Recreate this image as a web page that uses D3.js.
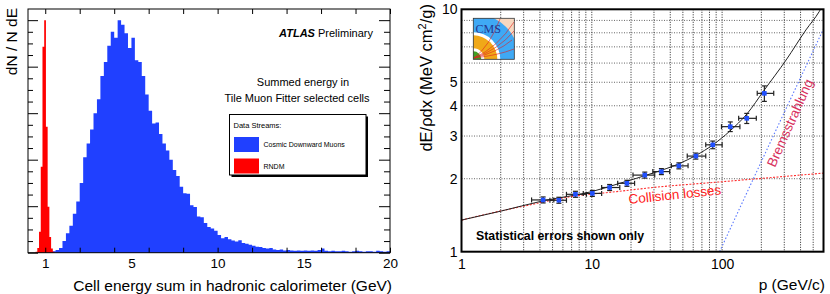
<!DOCTYPE html>
<html>
<head>
<meta charset="utf-8">
<script src="https://d3js.org/d3.v7.min.js"></script>
<style>
body { margin: 0; background: #fff; }
svg { display: block; font-family: "Liberation Sans", Arial, Helvetica, sans-serif; }
</style>
</head>
<body>
<svg width="830" height="294"></svg>
<script>
// ---------- left panel : ATLAS histogram ----------
var blueStart = 0.4, blueWidth = 0.2;
var blueCounts = [0.03, 0.06, 0.1, 0.25, 0.42, 0.58, 0.84, 1.1, 1.5, 2.05,
  2.35, 2.65, 3.0, 3.3, 3.8, 4.1, 4.45, 4.75, 4.62, 5.0,
  4.9, 4.72, 4.4, 4.62, 4.14, 4.1, 3.8, 3.4, 3.05, 2.78,
  2.8, 2.55, 2.35, 2.2, 2.0, 1.78, 1.65, 1.42, 1.28, 1.27,
  1.02, 0.98, 0.78, 0.76, 0.64, 0.55, 0.52, 0.47, 0.38, 0.31,
  0.34, 0.29, 0.26, 0.24, 0.27, 0.21, 0.19, 0.17, 0.15, 0.13,
  0.12, 0.10, 0.09, 0.10, 0.07, 0.06, 0.07, 0.05, 0.06, 0.05,
  0.04, 0.05, 0.04, 0.05, 0.04, 0.05, 0.04, 0.06, 0.09, 0.04,
  0.03, 0.04, 0.03, 0.03, 0.04, 0.03, 0.02, 0.03, 0.04, 0.03,
  0.02, 0.03, 0.03, 0.02, 0.04, 0.03, 0.02, 0.03];
var redStart = -0.56, redWidth = 0.1;
var redCounts = [0.02, 0.1, 0.45, 1.85, 4.43, 5.0, 2.71, 0.99, 0.34, 0.09, 0.02];
var energyTicks = [0, 2, 4, 6, 8, 10, 12, 14, 16, 18, 20];
var energyLabelAt = [0, 5, 10, 15, 20];
var energyLabels = ["1", "5", "10", "15", "20"];
var legendNames = ["Cosmic Downward Muons", "RNDM"];
var legendColors = ["#2040ff", "#ff0000"];

// ---------- right panel : CMS dE/dx ----------
var pMid  = [4.23, 5.59, 7.49, 10.1, 13.7, 18.6, 25.5, 34.2, 46.6, 62.9, 84.8, 115.5, 154.6, 211];
var pLow  = [3.45, 4.77, 6.39, 8.6, 11.9, 15.8, 20.7, 29.4, 40.8, 54.0, 74.9, 98.9, 134, 186];
var pHigh = [5.11, 6.39, 9.1, 11.9, 16.4, 21.3, 30.4, 39.6, 54.8, 74.9, 100, 137, 183, 249];
var dedx  = [1.635, 1.63, 1.725, 1.74, 1.84, 1.915, 2.07, 2.14, 2.26, 2.48, 2.76, 3.28, 3.55, 4.50];
var dedxErr = [0.02, 0.02, 0.02, 0.025, 0.025, 0.03, 0.04, 0.04, 0.05, 0.07, 0.1, 0.15, 0.17, 0.33];
var collP = [1, 1.97, 2.98, 6.55, 15.5, 29.4, 95.7, 600];
var collV = [1.35, 1.47, 1.54, 1.68, 1.77, 1.84, 1.94, 2.11];
var bremP = [95.7, 218, 600];
var bremV = [1.0, 2.6, 8.3];
var totP = [1, 2, 4.2, 10, 16.4, 29.4, 47, 63.3, 85, 115, 155, 211, 310, 440, 556, 600];
var totV = [1.35, 1.47, 1.62, 1.77, 1.915, 2.11, 2.31, 2.5, 2.76, 3.15, 3.7, 4.65, 6.18, 8.22, 9.78, 10.5];
var yTickVals = [1, 2, 3, 4, 5, 10];
var xTickVals = [1, 10, 100];
var gridY = [2, 3, 4, 5, 6, 7, 8, 9];
var gridX = [2, 3, 4, 5, 6, 7, 8, 9, 10, 20, 30, 40, 50, 60, 70, 80, 90, 100, 200, 300, 400, 500];

var svg = d3.select("svg");

// ================= LEFT =================
var xL = d3.scaleLinear().domain([-1, 20]).range([28, 390]);
var yL = d3.scaleLinear().domain([0, 5.24]).range([252.7, 9]);
var left = svg.append("g");

function histPath(start, width, counts) {
  var pts = counts.map(function(c, i) { return [start + i * width, c]; });
  pts.push([start + counts.length * width, counts[counts.length - 1]]);
  return d3.area().curve(d3.curveStepAfter)
    .x(function(d) { return xL(d[0]); })
    .y0(yL(0)).y1(function(d) { return yL(d[1]); })(pts);
}
left.append("path").attr("d", histPath(blueStart, blueWidth, blueCounts)).attr("fill", "#2040ff");
left.append("path").attr("d", histPath(redStart, redWidth, redCounts)).attr("fill", "#ff0000");

// frame
left.append("rect").attr("x", 28).attr("y", 9).attr("width", 362).attr("height", 243.7)
  .attr("fill", "none").attr("stroke", "#000").attr("stroke-width", 1);

// y ticks (no labels), left and right, inward
var yMinor = d3.range(0, 5.01, 0.25);
left.append("g").attr("transform", "translate(28,0)")
  .call(d3.axisLeft(yL).tickValues(yMinor).tickSize(0).tickFormat(""))
  .call(function(g) {
    g.select(".domain").remove();
    g.selectAll(".tick line").attr("x2", function(d) { return d % 1 === 0 ? 10 : 5; }).attr("stroke", "#000");
  });
left.append("g").attr("transform", "translate(390,0)")
  .call(d3.axisRight(yL).tickValues(yMinor).tickSize(0).tickFormat(""))
  .call(function(g) {
    g.select(".domain").remove();
    g.selectAll(".tick line").attr("x2", function(d) { return d % 1 === 0 ? -11 : -6; }).attr("stroke", "#000");
  });

// x ticks bottom/top
left.append("g").attr("transform", "translate(0,252.7)")
  .call(d3.axisBottom(xL).tickValues(energyTicks).tickSize(-5).tickFormat(""))
  .call(function(g) { g.select(".domain").remove(); });
left.append("g").attr("transform", "translate(0,9)")
  .call(d3.axisTop(xL).tickValues(energyTicks).tickSize(-5).tickFormat(""))
  .call(function(g) { g.select(".domain").remove(); });
left.append("g").attr("transform", "translate(0,252.7)")
  .call(d3.axisBottom(xL).tickValues(energyLabelAt).tickSize(0).tickPadding(6)
    .tickFormat(function(d, i) { return energyLabels[i]; }))
  .call(function(g) {
    g.select(".domain").remove();
    g.selectAll("text").attr("font-size", 13.5).attr("fill", "#000")
      .attr("font-family", "Liberation Sans, Arial, sans-serif");
  });

left.append("text").attr("transform", "translate(17,8) rotate(-90)")
  .attr("text-anchor", "end").attr("font-size", 15.5).text("dN / N dE");
left.append("text").attr("x", 392).attr("y", 291).attr("text-anchor", "end")
  .attr("font-size", 15.5).text("Cell energy sum in hadronic calorimeter (GeV)");

var atl = left.append("text").attr("x", 373).attr("y", 37).attr("text-anchor", "end").attr("font-size", 11);
atl.append("tspan").attr("font-weight", "bold").attr("font-style", "italic").text("ATLAS");
atl.append("tspan").text(" Preliminary");
left.append("text").attr("x", 303).attr("y", 86).attr("text-anchor", "middle").attr("font-size", 11)
  .text("Summed energy in");
left.append("text").attr("x", 297).attr("y", 102).attr("text-anchor", "middle").attr("font-size", 11)
  .text("Tile Muon Fitter selected cells");

// legend
var leg = left.append("g");
leg.append("rect").attr("x", 231.5).attr("y", 116.5).attr("width", 136.5).attr("height", 60.5).attr("fill", "#000");
leg.append("rect").attr("x", 229.5).attr("y", 114.5).attr("width", 136.5).attr("height", 60.5)
  .attr("fill", "#fff").attr("stroke", "#000").attr("stroke-width", 1);
leg.append("text").attr("x", 233.5).attr("y", 127.5).attr("font-size", 7.5).text("Data Streams:");
legendNames.forEach(function(n, i) {
  leg.append("rect").attr("x", 234).attr("y", 137 + i * 21.5).attr("width", 25).attr("height", 15)
    .attr("fill", legendColors[i]);
  leg.append("text").attr("x", 263.5).attr("y", 147.3 + i * 21.5).attr("font-size", 7).text(n);
});

// ================= RIGHT =================
var xR = d3.scaleLog().domain([1, 600]).range([461.5, 823.5]);
var yR = d3.scaleLog().domain([1, 10]).range([251.7, 9.3]);
var right = svg.append("g");

svg.append("clipPath").attr("id", "plotclip").append("rect")
  .attr("x", 461.5).attr("y", 9.3).attr("width", 362).attr("height", 242.4);

// grid
right.selectAll(".gy").data(gridY).enter().append("line")
  .attr("x1", 461.5).attr("x2", 823.5)
  .attr("y1", function(d) { return yR(d); }).attr("y2", function(d) { return yR(d); })
  .attr("stroke", "#666").attr("stroke-width", 1).attr("stroke-dasharray", "1,1.5");
right.selectAll(".gx").data(gridX).enter().append("line")
  .attr("y1", 9.3).attr("y2", 251.7)
  .attr("x1", function(d) { return xR(d); }).attr("x2", function(d) { return xR(d); })
  .attr("stroke", "#222").attr("stroke-width", 1).attr("stroke-dasharray", "1,1.5");

// curves
var curves = right.append("g").attr("clip-path", "url(#plotclip)");
function logLine(ps, vs) {
  return d3.line().curve(d3.curveMonotoneX)
    .x(function(d) { return xR(d[0]); }).y(function(d) { return yR(d[1]); })(d3.zip(ps, vs));
}
curves.append("path").attr("d", logLine(collP, collV)).attr("fill", "none")
  .attr("stroke", "#ff3030").attr("stroke-width", 1.1).attr("stroke-dasharray", "2,1.5");
curves.append("path").attr("d", logLine(bremP, bremV)).attr("fill", "none")
  .attr("stroke", "#5a78ff").attr("stroke-width", 1.1).attr("stroke-dasharray", "1.5,2");
curves.append("path").attr("d", logLine(totP, totV)).attr("fill", "none")
  .attr("stroke", "#222").attr("stroke-width", 1);

// data points with error bars
var pts = right.append("g").attr("stroke", "#222").attr("stroke-width", 1.2);
pMid.forEach(function(p, i) {
  var cx = xR(p), cy = yR(dedx[i]);
  var x0 = xR(pLow[i]), x1 = xR(pHigh[i]);
  var yLo = Math.max(yR(dedx[i] - dedxErr[i]), cy + 3);
  var yHi = Math.min(yR(dedx[i] + dedxErr[i]), cy - 3);
  pts.append("line").attr("x1", x0).attr("x2", x1).attr("y1", cy).attr("y2", cy);
  pts.append("line").attr("x1", x0).attr("x2", x0).attr("y1", cy - 2.5).attr("y2", cy + 2.5);
  pts.append("line").attr("x1", x1).attr("x2", x1).attr("y1", cy - 2.5).attr("y2", cy + 2.5);
  pts.append("line").attr("x1", cx).attr("x2", cx).attr("y1", yLo).attr("y2", yHi);
  pts.append("line").attr("x1", cx - 2.5).attr("x2", cx + 2.5).attr("y1", yHi).attr("y2", yHi);
  pts.append("line").attr("x1", cx - 2.5).attr("x2", cx + 2.5).attr("y1", yLo).attr("y2", yLo);
  pts.append("rect").attr("x", cx - 2.3).attr("y", cy - 2.3).attr("width", 4.6).attr("height", 4.6)
    .attr("fill", "#2050ff").attr("stroke", "none");
});

// frame
right.append("rect").attr("x", 461.5).attr("y", 9.3).attr("width", 362).attr("height", 242.4)
  .attr("fill", "none").attr("stroke", "#000").attr("stroke-width", 2);

// axes labels
right.append("g").attr("transform", "translate(0,251.7)")
  .call(d3.axisBottom(xR).tickValues(xTickVals).tickSize(0).tickPadding(7).tickFormat(d3.format("d")))
  .call(function(g) {
    g.select(".domain").remove();
    g.selectAll("text").attr("font-size", 14).attr("fill", "#000").attr("font-family", "Liberation Sans, Arial, sans-serif");
  });
right.append("g").attr("transform", "translate(461.5,0)")
  .call(d3.axisLeft(yR).tickValues(yTickVals).tickSize(0).tickPadding(4).tickFormat(d3.format("d")))
  .call(function(g) {
    g.select(".domain").remove();
    g.selectAll("text").attr("font-size", 14).attr("fill", "#000").attr("font-family", "Liberation Sans, Arial, sans-serif");
  });

var yt = right.append("text").attr("transform", "translate(432,4) rotate(-90)")
  .attr("text-anchor", "end").attr("font-size", 16.5);
yt.append("tspan").text("dE/\u03C1dx (MeV cm");
yt.append("tspan").attr("font-size", 11).attr("dy", -6).text("2");
yt.append("tspan").attr("dy", 6).text("/g)");
right.append("text").attr("x", 825).attr("y", 290).attr("text-anchor", "end").attr("font-size", 15.5).text("p (GeV/c)");
right.append("text").attr("x", 476).attr("y", 240).attr("font-size", 12.3).attr("font-weight", "bold").text("Statistical errors shown only");
right.append("text").attr("transform", "translate(629,204) rotate(-6)").attr("font-size", 13.5).attr("fill", "#ff2020").text("Collision losses");
right.append("text").attr("transform", "translate(775,168) rotate(-66)").attr("font-size", 13.5).attr("fill", "#d8305c").text("Bremsstrahlung");

// CMS logo
var logo = right.append("g");
logo.append("clipPath").attr("id", "logoclip").append("rect").attr("x", 473.3).attr("y", 18.3).attr("width", 41).attr("height", 41);
var lg = logo.append("g").attr("clip-path", "url(#logoclip)");
lg.append("rect").attr("x", 473.3).attr("y", 18.3).attr("width", 41).attr("height", 41).attr("fill", "#f7d8c0");
[[46, "#3fa9f5"], [27, "#fff"], [24, "#f0a818"], [11, "#fff"], [8, "#40a020"]].forEach(function(r) {
  lg.append("circle").attr("cx", 473.3).attr("cy", 59.3).attr("r", r[0]).attr("fill", r[1]);
});
[[514, 22], [514, 31], [512, 40], [500, 19], [514, 49]].forEach(function(e) {
  lg.append("path").attr("d", "M474,58 Q" + (474 + (e[0] - 474) * 0.6) + "," + (58 + (e[1] - 58) * 0.3) + " " + e[0] + "," + e[1])
    .attr("fill", "none").attr("stroke", "#e02020").attr("stroke-width", 0.6);
});
lg.append("text").attr("x", 475.5).attr("y", 33).attr("font-size", 12)
  .attr("font-family", "Liberation Serif, Times New Roman, serif").attr("fill", "#26358e").text("CMS");
logo.append("rect").attr("x", 473.3).attr("y", 18.3).attr("width", 41).attr("height", 41)
  .attr("fill", "none").attr("stroke", "#333").attr("stroke-width", 0.8);
</script>
</body>
</html>
